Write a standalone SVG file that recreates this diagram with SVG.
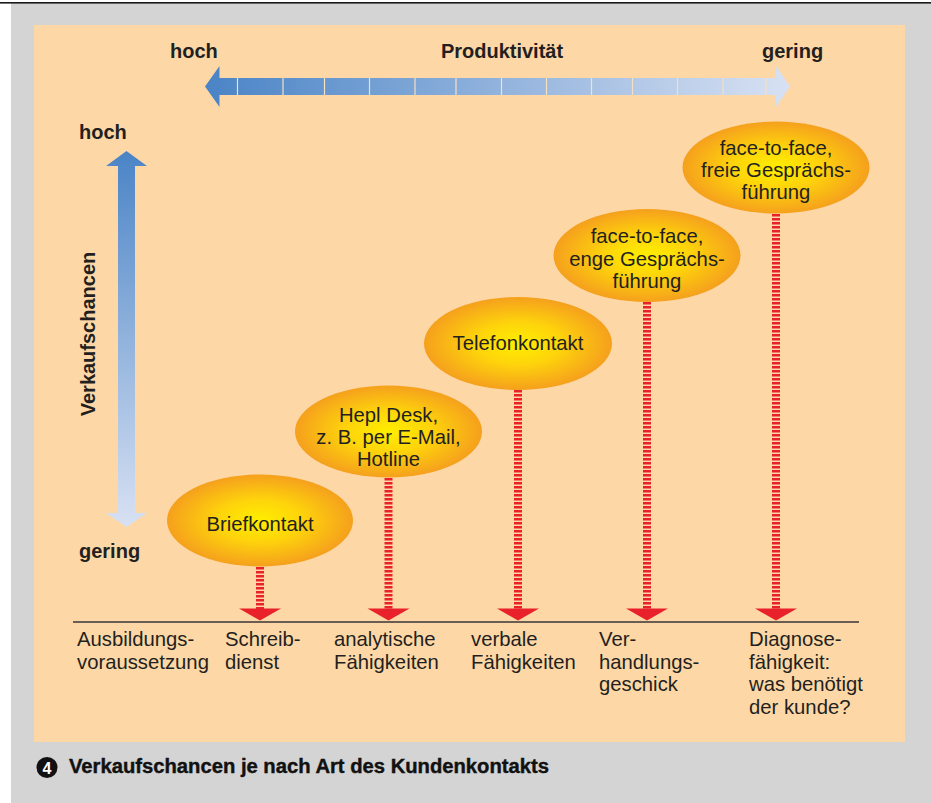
<svg xmlns="http://www.w3.org/2000/svg" width="931" height="803" viewBox="0 0 931 803">
<defs>
<linearGradient id="gH" gradientUnits="userSpaceOnUse" x1="205" y1="0" x2="790" y2="0">
<stop offset="0" stop-color="#4a84c6"/>
<stop offset="1" stop-color="#d8e1f3"/>
</linearGradient>
<linearGradient id="gV" gradientUnits="userSpaceOnUse" x1="0" y1="151" x2="0" y2="527">
<stop offset="0" stop-color="#4a84c6"/>
<stop offset="1" stop-color="#d8e1f3"/>
</linearGradient>
<radialGradient id="gE" cx="0.5" cy="0.5" r="0.5">
<stop offset="0" stop-color="#ffee00"/>
<stop offset="0.45" stop-color="#fed40b"/>
<stop offset="1" stop-color="#f5a01d"/>
</radialGradient>
<style>
.lbl{font-family:"Liberation Sans",Arial,sans-serif;font-size:20px;font-weight:bold;fill:#231f20}
.txt{font-family:"Liberation Sans",Arial,sans-serif;font-size:20.3px;fill:#231f20}
.ell{fill:url(#gE)}
.dash{stroke:#e8212a;stroke-width:8;stroke-dasharray:2.4 1.6;fill:none}
.head{fill:#e8212a}
.sep{stroke:#f6dfc3;stroke-width:1.2}
</style>
</defs>
<rect x="0" y="0" width="931" height="803" fill="#ffffff"/>
<rect x="11" y="3" width="920" height="800" fill="#d4d4d4"/>
<rect x="0" y="2" width="931" height="1.6" fill="#1a1a1a"/>
<rect x="34" y="25" width="871" height="717" fill="#fdd8a6"/>

<g id="productivity-axis">
<polygon points="205,86.5 219.5,66 219.5,78 776,78 776,66 790,86.5 776,107 776,95 219.5,95 219.5,107" fill="url(#gH)"/>
<g class="sep">
<line x1="237.5" y1="78" x2="237.5" y2="95"/>
<line x1="283" y1="78" x2="283" y2="95"/>
<line x1="324.5" y1="78" x2="324.5" y2="95"/>
<line x1="369.5" y1="78" x2="369.5" y2="95"/>
<line x1="415" y1="78" x2="415" y2="95"/>
<line x1="456" y1="78" x2="456" y2="95"/>
<line x1="501.5" y1="78" x2="501.5" y2="95"/>
<line x1="546.5" y1="78" x2="546.5" y2="95"/>
<line x1="591.5" y1="78" x2="591.5" y2="95"/>
<line x1="632.5" y1="78" x2="632.5" y2="95"/>
<line x1="677.5" y1="78" x2="677.5" y2="95"/>
<line x1="723" y1="78" x2="723" y2="95"/>
<line x1="766" y1="78" x2="766" y2="95"/>
</g>
<text class="lbl" x="170" y="58">hoch</text>
<text class="lbl" x="502" y="58" text-anchor="middle">Produktivität</text>
<text class="lbl" x="762" y="58">gering</text>
</g>

<g id="sales-axis">
<polygon points="126.5,151 147,166 135,166 135,513 147,513 126.5,527 106,513 118,513 118,166 106,166" fill="url(#gV)"/>
<text class="lbl" x="79" y="139">hoch</text>
<text class="lbl" x="79" y="558">gering</text>
<text class="lbl" x="95" y="334" text-anchor="middle" transform="rotate(-90 95 334)">Verkaufschancen</text>
</g>

<g id="connectors">
<line class="dash" x1="260" y1="567" x2="260" y2="609"/>
<line class="dash" x1="388.5" y1="478" x2="388.5" y2="609"/>
<line class="dash" x1="518" y1="390" x2="518" y2="609"/>
<line class="dash" x1="647" y1="302" x2="647" y2="609"/>
<line class="dash" x1="776" y1="214" x2="776" y2="609"/>
<polygon class="head" points="239,608.5 281,608.5 260,620.5"/>
<polygon class="head" points="367.5,608.5 409.5,608.5 388.5,620.5"/>
<polygon class="head" points="497,608.5 539,608.5 518,620.5"/>
<polygon class="head" points="626,608.5 668,608.5 647,620.5"/>
<polygon class="head" points="755,608.5 797,608.5 776,620.5"/>
<line x1="73" y1="622" x2="859" y2="622" stroke="#6a5d53" stroke-width="2"/>
</g>

<g id="node-briefkontakt">
<ellipse class="ell" cx="260" cy="520.5" rx="93" ry="46"/>
<text class="txt" x="260" y="531" text-anchor="middle">Briefkontakt</text>
</g>
<g id="node-helpdesk">
<ellipse class="ell" cx="388.5" cy="431.5" rx="93.5" ry="46"/>
<text class="txt" x="388.5" y="421.5" text-anchor="middle">Hepl Desk,</text>
<text class="txt" x="388.5" y="444" text-anchor="middle">z. B. per E-Mail,</text>
<text class="txt" x="388.5" y="466" text-anchor="middle">Hotline</text>
</g>
<g id="node-telefon">
<ellipse class="ell" cx="518" cy="343.5" rx="94" ry="46.5"/>
<text class="txt" x="518" y="350" text-anchor="middle">Telefonkontakt</text>
</g>
<g id="node-enge">
<ellipse class="ell" cx="647" cy="255.5" rx="93.5" ry="46.5"/>
<text class="txt" x="647" y="243" text-anchor="middle">face-to-face,</text>
<text class="txt" x="647" y="266" text-anchor="middle">enge Gesprächs-</text>
<text class="txt" x="647" y="288" text-anchor="middle">führung</text>
</g>
<g id="node-freie">
<ellipse class="ell" cx="776" cy="167.5" rx="93.5" ry="46"/>
<text class="txt" x="776" y="155" text-anchor="middle">face-to-face,</text>
<text class="txt" x="776" y="177" text-anchor="middle">freie Gesprächs-</text>
<text class="txt" x="776" y="199" text-anchor="middle">führung</text>
</g>

<g id="skills">
<text class="txt" x="77" y="646">Ausbildungs-</text>
<text class="txt" x="77" y="668.5">voraussetzung</text>
<text class="txt" x="225" y="646">Schreib-</text>
<text class="txt" x="225" y="668.5">dienst</text>
<text class="txt" x="334" y="646">analytische</text>
<text class="txt" x="334" y="668.5">Fähigkeiten</text>
<text class="txt" x="471" y="646">verbale</text>
<text class="txt" x="471" y="668.5">Fähigkeiten</text>
<text class="txt" x="599" y="646">Ver-</text>
<text class="txt" x="599" y="668.5">handlungs-</text>
<text class="txt" x="599" y="691">geschick</text>
<text class="txt" x="749" y="646">Diagnose-</text>
<text class="txt" x="749" y="668.5">fähigkeit:</text>
<text class="txt" x="749" y="691">was benötigt</text>
<text class="txt" x="749" y="713.5">der kunde?</text>
</g>

<g id="caption">
<circle cx="47" cy="767.5" r="10.5" fill="#111111"/>
<text x="47" y="773.5" text-anchor="middle" font-family="'Liberation Sans',Arial,sans-serif" font-size="16" font-weight="bold" fill="#ffffff">4</text>
<text class="lbl" x="69" y="773" textLength="480" lengthAdjust="spacingAndGlyphs" style="fill:#111111;stroke:#111111;stroke-width:0.4">Verkaufschancen je nach Art des Kundenkontakts</text>
</g>
</svg>
